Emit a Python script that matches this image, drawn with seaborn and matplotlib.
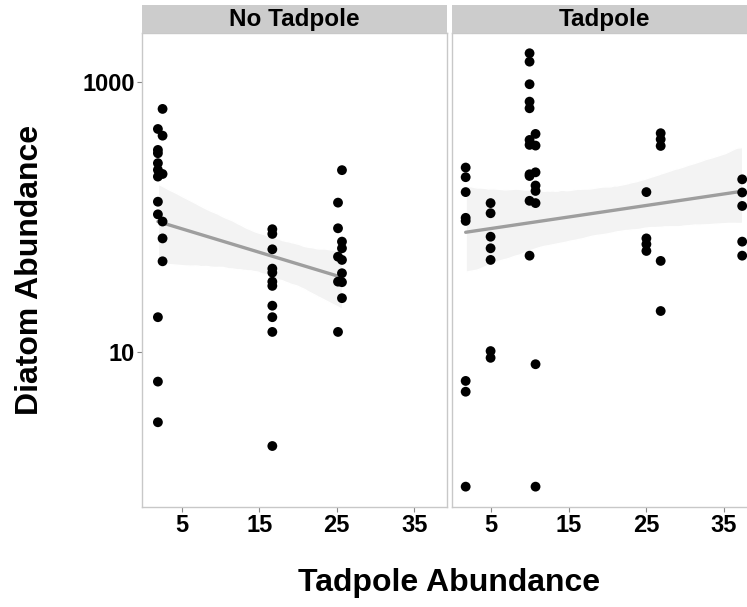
import numpy as np
import pandas as pd
import matplotlib
matplotlib.use("Agg")
import matplotlib.pyplot as plt
from matplotlib.collections import PolyCollection
from matplotlib.ticker import FixedLocator, FuncFormatter
import seaborn as sns

# ---- data ----
panels = ["No Tadpole", "Tadpole"]

no_tad_x = [1.96] * 11 + [2.56] * 6 + [16.7] * 11 + [25.16] * 5 + [25.67] * 7
no_tad_y = [446, 312, 295, 249, 222, 198, 129, 104, 18, 6.0, 3.0,
            628, 398, 207, 92, 69, 46.7,
            80.7, 74.5, 57.3, 41.2, 38.5, 33, 30.7, 21.9, 18, 14, 2.0,
            127, 82, 50.5, 33, 14,
            221, 65.3, 58.3, 47.8, 38.1, 32.7, 24.9]

tad_x = ([1.75] * 8 + [4.96] * 7 + [9.98] * 11 + [10.75] * 8 +
         [25.03] * 4 + [26.87] * 5 + [37.37] * 5)
tad_y = [231, 196, 152, 98, 93, 6.07, 5.05, 1.0,
         126, 106, 71, 58.3, 47.8, 10.1, 9.0,
         1623, 1406, 957, 711, 635, 370, 340, 206, 200, 131, 51.4,
         410, 336, 213, 170, 155, 126, 8.07, 1.0,
         152, 69, 62.5, 55.7,
         415, 374, 334, 47, 20,
         189, 151, 120, 65.3, 51.4]

df = pd.DataFrame({
    "panel": [panels[0]] * len(no_tad_x) + [panels[1]] * len(tad_x),
    "tadpole": no_tad_x + tad_x,
    "diatom": no_tad_y + tad_y,
})
df["log_diatom"] = np.log10(df["diatom"])

y_ticks = [10, 1000]
x_ticks = [5, 15, 25, 35]

# ---- figure ----
sns.set_theme(style="white")
plt.rcParams["font.family"] = ["Liberation Sans", "DejaVu Sans"]
plt.rcParams["font.weight"] = "bold"
plt.rcParams["text.color"] = "black"

W, H = 747, 607
fig = plt.figure(figsize=(W / 100, H / 100), dpi=100)
fig.patch.set_facecolor("white")

def fx(px):
    return px / W

def fy(py):
    return 1 - py / H

panel_left = [142.3, 451.7]
panel_w = 447.0 - 142.3
top_px, bot_px, strip_top_px = 32.5, 506.5, 5.0

for i, name in enumerate(panels):
    ax = fig.add_axes([fx(panel_left[i]), fy(bot_px), fx(panel_w), (bot_px - top_px) / H])
    sub = df[df["panel"] == name]
    sns.regplot(data=sub, x="tadpole", y="log_diatom", ax=ax, ci=95, seed=0,
                scatter_kws=dict(s=50, color="black", edgecolor="none", alpha=1, zorder=3),
                line_kws=dict(color="#9e9e9e", lw=2.4, zorder=2), truncate=True)
    for coll in ax.collections:
        if isinstance(coll, PolyCollection):
            coll.set_facecolor("#f3f3f3")
            coll.set_alpha(1)
            coll.set_zorder(1)
    ax.set_xlim(-0.05, 39.2)
    ax.set_ylim(-0.147, 3.364)
    ax.xaxis.set_major_locator(FixedLocator(x_ticks))
    ax.yaxis.set_major_locator(FixedLocator(np.log10(y_ticks)))
    ax.yaxis.set_major_formatter(FuncFormatter(lambda v, p: f"{10 ** v:g}"))
    ax.set_xlabel("")
    ax.set_ylabel("")
    ax.tick_params(axis="both", which="major", length=3.5, width=0.8, color="#888888",
                   labelsize=17, pad=2, bottom=True, left=True)
    for lab in ax.get_xticklabels() + ax.get_yticklabels():
        lab.set_fontweight("bold")
        lab.set_color("black")
    if i == 1:
        ax.tick_params(axis="y", labelleft=False, left=False)
    for sp in ax.spines.values():
        sp.set_color("#c8c8c8")
        sp.set_linewidth(1.0)
    ax.set_facecolor("white")

    # facet strip
    sax = fig.add_axes([fx(panel_left[i]), fy(top_px), fx(panel_w), (top_px - strip_top_px) / H])
    sax.set_facecolor("#cccccc")
    sax.set_xticks([])
    sax.set_yticks([])
    for sp in sax.spines.values():
        sp.set_visible(False)
    sax.text(0.5, 0.48, name, ha="center", va="center", fontsize=17.5,
             fontweight="bold", color="black", transform=sax.transAxes)

fig.text(fx(449), fy(583), "Tadpole Abundance", ha="center", va="center",
         fontsize=23, fontweight="bold", color="black")
fig.text(fx(30), fy(269.5), "Diatom Abundance", ha="center", va="center",
         rotation=90, fontsize=23, fontweight="bold", color="black")

fig.savefig("out.png", dpi=100)
